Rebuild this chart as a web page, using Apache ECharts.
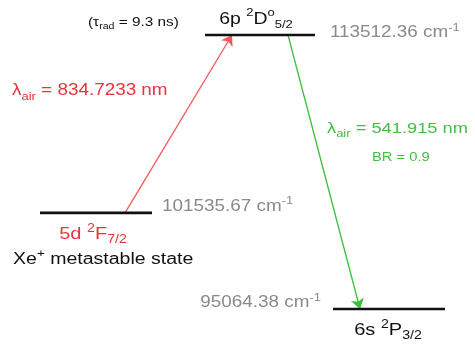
<!DOCTYPE html>
<html>
<head>
<meta charset="utf-8">
<script src="https://cdn.jsdelivr.net/npm/echarts@6/dist/echarts.min.js"></script>
<style>
  html, body { margin: 0; padding: 0; background: #fff; }
  #chart { width: 475px; height: 351px; }
</style>
</head>
<body>
<div id="chart"></div>
<script>
// Xe+ levels used for the 834.7 nm excitation / 541.9 nm decay scheme
const levelConfig = ['6p', '5d', '6s'];
const levelTerms = [
  ['2', 'D', 'o', '5/2'],
  ['2', 'F', '', '7/2'],
  ['2', 'P', '', '3/2']
];
const levelEnergies = [113512.36, 101535.67, 95064.38]; // cm^-1
const transitionWavelengths = [834.7233, 541.915];     // nm, in air
const transitionLevels = [[1, 0], [0, 2]];             // [from, to] as level indices
const branchingRatio = 0.9;
const radiativeLifetime = 9.3;                         // ns, 6p level

// Schematic horizontal placement (diagram units along the hidden x axis)
const layout = {
  levelSpan: [[205, 315], [40, 152], [333, 445]],
  transitionX: [[125, 232], [288, 360]]
};

const RED = '#e8343c';
const RED_ARROW = '#f0585c';
const GREEN = '#45bd45';
const GREEN_ARROW = '#3cbd3c';
const GREY = '#8a8a8a';
const INK = '#111111';
const FONT = 'Liberation Sans, Arial, sans-serif';
const SX = 1.18;

function richSet(size, color) {
  const small = Math.round(size * 0.68);
  const lh = size + 6;
  const base = { fontFamily: FONT, fill: color, color: color, lineHeight: lh };
  return {
    m: Object.assign({ fontSize: size }, base),
    sup: Object.assign({ fontSize: small, verticalAlign: 'top' }, base),
    sub: Object.assign({ fontSize: small, verticalAlign: 'bottom' }, base)
  };
}

function termText(i) {
  const t = levelTerms[i];
  let s = '{m|' + levelConfig[i] + ' }{sup|' + t[0] + '}{m|' + t[1] + '}';
  if (t[2]) s += '{sup|' + t[2] + '}';
  s += '{sub|' + t[3] + '}';
  return s;
}
function energyText(i) {
  return '{m|' + levelEnergies[i].toFixed(2) + ' cm}{sup|-1}';
}
function txt(x, y, text, rich, align, sx) {
  return {
    type: 'text', x: x, y: y, scaleX: sx || SX,
    style: { text: text, rich: rich, align: align, verticalAlign: 'middle' }
  };
}

const chart = echarts.init(document.getElementById('chart'), null, { renderer: 'canvas' });

const levelData = levelEnergies.map((e, i) => [layout.levelSpan[i][0], layout.levelSpan[i][1], e]);

const arrowData = transitionLevels.map((pair, k) => ({
  coords: [
    [layout.transitionX[k][0], levelEnergies[pair[0]]],
    [layout.transitionX[k][1], levelEnergies[pair[1]]]
  ],
  lineStyle: { color: k === 0 ? RED_ARROW : GREEN_ARROW }
}));

chart.setOption({
  animation: false,
  backgroundColor: '#fff',
  grid: { left: 0, right: 0, top: 0, bottom: 0 },
  xAxis: { type: 'value', min: 0, max: 475, show: false },
  yAxis: { type: 'value', min: 92235, max: 115870, show: false },
  series: [
    {
      type: 'custom',
      data: levelData,
      renderItem: function (params, api) {
        const i = params.dataIndex;
        const a = api.coord([api.value(0), api.value(2)]);
        const b = api.coord([api.value(1), api.value(2)]);
        const y = a[1];
        const mid = (a[0] + b[0]) / 2;
        const children = [{
          type: 'line',
          shape: { x1: a[0], y1: y, x2: b[0], y2: y },
          style: { stroke: INK, lineWidth: 2.6 }
        }];
        const grey = richSet(16, GREY);
        if (i === 0) {
          children.push(txt(mid - 4, y - 16, termText(i), richSet(16.5, INK), 'center'));
          children.push(txt(b[0] + 15, y - 2, energyText(i), grey, 'left'));
          children.push(txt(a[0] - 117, y - 13,
            '{m|(τ}{sub|rad}{m| = ' + radiativeLifetime + ' ns)}', richSet(13, INK), 'left'));
        } else if (i === 1) {
          children.push(txt(mid - 3, y + 21, termText(i), richSet(17, RED), 'center'));
          children.push(txt(b[0] + 10, y - 6, energyText(i), grey, 'left'));
          children.push(txt(a[0] - 27, y + 47,
            '{m|Xe}{sup|+}{m| metastable state}', richSet(16, INK), 'left', 1.22));
        } else {
          children.push(txt(mid - 1, y + 21, termText(i), richSet(17, INK), 'center'));
          children.push(txt(a[0] - 12, y - 6, energyText(i), grey, 'right'));
        }
        return { type: 'group', children: children };
      },
      z: 3
    },
    {
      type: 'lines',
      coordinateSystem: 'cartesian2d',
      data: arrowData,
      symbol: ['none', 'arrow'],
      symbolSize: [7, 10],
      lineStyle: { width: 1.3, opacity: 1 },
      z: 2
    }
  ],
  graphic: [
    txt(12, 91, '{m|λ}{sub|air}{m| = ' + transitionWavelengths[0] + ' nm}', richSet(16, RED), 'left'),
    txt(327, 129, '{m|λ}{sub|air}{m| = ' + transitionWavelengths[1] + ' nm}', richSet(15.5, GREEN), 'left'),
    txt(372, 158, '{m|BR = ' + branchingRatio + '}', richSet(12.5, GREEN), 'left')
  ]
});
</script>
</body>
</html>
